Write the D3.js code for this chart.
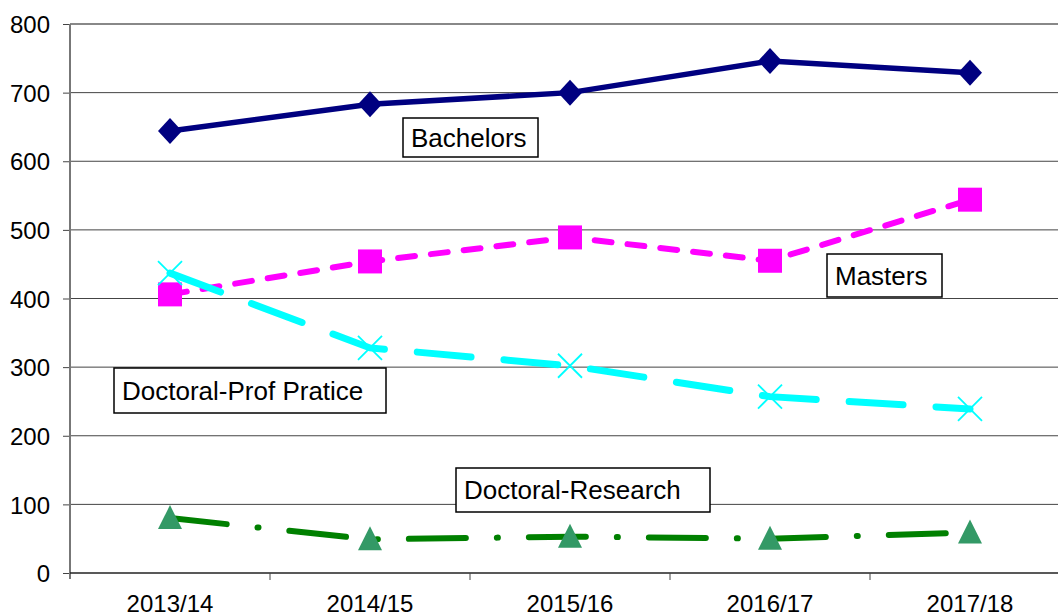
<!DOCTYPE html>
<html>
<head>
<meta charset="utf-8">
<script src="https://cdn.jsdelivr.net/npm/d3@7"></script>
<style>
  body { margin: 0; background: #fff; }
  text { font-family: "Liberation Sans", Arial, sans-serif; }
</style>
</head>
<body>
<div id="chart"></div>
<script>
// Chart dimensions
var width = 1058;
var height = 614;
var m = { left: 70, top: 24, bottom: 573, right: 1070 };

// Data
var years = ["2013/14", "2014/15", "2015/16", "2016/17", "2017/18"];
var bachelors = [644, 683, 700, 746, 729];
var masters = [406, 454, 489, 455, 544];
var profPractice = [437, 328, 302, 257, 239];
var research = [80, 49, 53, 50, 59];
var yTicks = [0, 100, 200, 300, 400, 500, 600, 700, 800];

var series = [
  { name: "Bachelors", values: bachelors, color: "#000080", width: 5.5, dash: null, marker: "diamond", mcolor: "#000080",
    box: { x: 403, y: 118, w: 135, h: 39 } },
  { name: "Masters", values: masters, color: "#ff00ff", width: 6, dash: "17,16", marker: "square", mcolor: "#ff00ff",
    box: { x: 827, y: 254, w: 115, h: 43 } },
  { name: "Doctoral-Prof Pratice", values: profPractice, color: "#00ffff", width: 7, dash: "54,33", marker: "x", mcolor: "#00ffff",
    box: { x: 114, y: 368, w: 272, h: 45 } },
  { name: "Doctoral-Research", values: research, color: "#008000", width: 6, dash: "57,31,1,31", marker: "triangle", mcolor: "#339966",
    box: { x: 456, y: 468, w: 254, h: 44 } }
];

var svg = d3.select("#chart").append("svg")
    .attr("width", width)
    .attr("height", height);

var x = d3.scaleBand().domain(years).range([m.left, m.right]);
var y = d3.scaleLinear().domain([0, 800]).range([m.bottom, m.top]);

// Gridlines
svg.append("g").selectAll("line")
    .data(yTicks.filter(function(d) { return d > 0; }))
    .enter().append("line")
    .attr("x1", m.left).attr("x2", width)
    .attr("y1", function(d) { return y(d); })
    .attr("y2", function(d) { return y(d); })
    .style("stroke", function(d) { return d === 800 ? "#888" : "#444"; })
    .style("stroke-width", function(d) { return d === 800 ? 2 : 1; });

// Y axis
var yAxis = svg.append("g")
    .attr("transform", "translate(" + m.left + ",0)")
    .call(d3.axisLeft(y).tickValues(yTicks).tickSize(7).tickPadding(13));
yAxis.select(".domain").remove();
yAxis.selectAll("line").style("stroke", "#444");
yAxis.selectAll("text").style("font-size", "24px").style("fill", "#000")
    .attr("dy", "0.36em");
svg.append("line")
    .attr("x1", m.left).attr("x2", m.left)
    .attr("y1", m.top).attr("y2", m.bottom + 6)
    .style("stroke", "#777").style("stroke-width", 2);

// X axis
svg.append("line")
    .attr("x1", m.left).attr("x2", width)
    .attr("y1", m.bottom).attr("y2", m.bottom)
    .style("stroke", "#222").style("stroke-width", 1.5);
svg.append("g").selectAll("line")
    .data(years.slice(1))
    .enter().append("line")
    .attr("x1", function(d) { return x(d); })
    .attr("x2", function(d) { return x(d); })
    .attr("y1", m.bottom).attr("y2", m.bottom + 7)
    .style("stroke", "#444");
svg.append("g").selectAll("text")
    .data(years)
    .enter().append("text")
    .attr("x", function(d) { return x(d) + x.bandwidth() / 2; })
    .attr("y", 612)
    .attr("text-anchor", "middle")
    .style("font-size", "24px")
    .text(function(d) { return d; });

var line = d3.line()
    .x(function(d, i) { return x(years[i]) + x.bandwidth() / 2; })
    .y(function(d) { return y(d); });

// Lines
series.forEach(function(s) {
  svg.append("path")
      .datum(s.values)
      .attr("d", line)
      .style("fill", "none")
      .style("stroke", s.color)
      .style("stroke-width", s.width)
      .style("stroke-linecap", "round")
      .style("stroke-dasharray", s.dash);
});

// Markers
function markerPath(type) {
  if (type === "diamond") return "M0,-13L12,0L0,13L-12,0Z";
  if (type === "square") return "M-12,-12H12V12H-12Z";
  if (type === "triangle") return "M0,-13L12,11H-12Z";
  return "M-12,-12L12,12M-12,12L12,-12";
}
series.forEach(function(s) {
  svg.append("g").selectAll("path")
      .data(s.values)
      .enter().append("path")
      .attr("transform", function(d, i) {
        return "translate(" + (x(years[i]) + x.bandwidth() / 2) + "," + y(d) + ")";
      })
      .attr("d", markerPath(s.marker))
      .style("fill", s.marker === "x" ? "none" : s.mcolor)
      .style("stroke", s.marker === "x" ? s.mcolor : "none")
      .style("stroke-width", 1.8);
});

// Labels
series.forEach(function(s) {
  var g = svg.append("g");
  g.append("rect")
      .attr("x", s.box.x).attr("y", s.box.y)
      .attr("width", s.box.w).attr("height", s.box.h)
      .style("fill", "#fff").style("stroke", "#000").style("stroke-width", 1.5);
  g.append("text")
      .attr("x", s.box.x + 8)
      .attr("y", s.box.y + s.box.h / 2)
      .attr("dy", "0.36em")
      .style("font-size", "26px")
      .text(s.name);
});
</script>
</body>
</html>
